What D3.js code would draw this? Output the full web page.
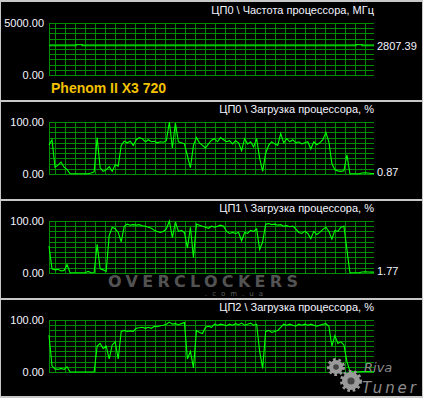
<!DOCTYPE html>
<html>
<head>
<meta charset="utf-8">
<script src="https://cdn.jsdelivr.net/npm/d3@7"></script>
<style>
  html, body { margin: 0; padding: 0; background: #000; overflow: hidden; }
</style>
</head>
<body>
<svg id="chart"></svg>
<script>
const panelTitles = [
  "ЦП0 \\ Частота процессора, МГц",
  "ЦП0 \\ Загрузка процессора, %",
  "ЦП1 \\ Загрузка процессора, %",
  "ЦП2 \\ Загрузка процессора, %",
];
const panelMax = [5000, 100, 100, 100];
const cpuName = "Phenom II X3 720";

// CPU0 clock, MHz (one sample every ~3 px)
const freqValues = [
  2807.39, 2807.39, 2807.39, 2807.39, 2807.39, 2807.39, 2807.39, 2807.39, 2807.39, 2903.5,
  2903.5, 2807.39, 2807.39, 2807.39, 2807.39, 2807.39, 2807.39, 2807.39, 2807.39, 2807.39,
  2807.39, 2807.39, 2807.39, 2807.39, 2807.39, 2807.39, 2807.39, 2807.39, 2807.39, 2807.39,
  2807.39, 2807.39, 2807.39, 2807.39, 2807.39, 2807.39, 2807.39, 2807.39, 2807.39, 2807.39,
  2807.39, 2807.39, 2807.39, 2807.39, 2807.39, 2807.39, 2807.39, 2807.39, 2807.39, 2807.39,
  2807.39, 2807.39, 2807.39, 2807.39, 2807.39, 2807.39, 2807.39, 2807.39, 2807.39, 2807.39,
  2807.39, 2807.39, 2807.39, 2807.39, 2807.39, 2807.39, 2807.39, 2807.39, 2807.39, 2807.39,
  2807.39, 2807.39, 2807.39, 2807.39, 2807.39, 2807.39, 2807.39, 2807.39, 2807.39, 2807.39,
  2807.39, 2807.39, 2807.39, 2807.39, 2807.39, 2807.39, 2807.39, 2807.39, 2807.39, 2807.39,
  2807.39, 2807.39, 2807.39, 2807.39, 2807.39, 2807.39, 2807.39, 2807.39, 2807.39, 2807.39,
  2807.39, 2807.39, 2903.5, 2903.5, 2807.39, 2807.39, 2807.39, 2807.39, 2807.39,
];

// load, %
const cpu0Load = [
  56, 66, 13, 17, 23, 13, 9, 0.5, 0.5, 0.5,
  0.5, 0.5, 0.5, 0.5, 2, 4, 70, 12, 5, 8,
  14, 5, 18, 15, 55, 63, 60, 63, 55, 66,
  70, 68, 62, 66, 62, 63, 60, 62, 61, 64,
  100, 50, 98, 62, 60, 58, 35, 12, 55, 70,
  60, 55, 50, 58, 65, 68, 62, 70, 66, 62,
  64, 58, 64, 60, 45, 68, 58, 62, 52, 68,
  30, 5, 40, 55, 62, 58, 55, 78, 60, 68,
  62, 66, 60, 62, 58, 60, 62, 48, 62, 56,
  60, 66, 80, 62, 20, 8, 6, 5, 6, 37,
  0.5, 0.5, 0.5, 0.5, 2, 2.5, 2, 0.87, 0.87,
];
const cpu1Load = [
  52, 8, 6, 7, 4, 5, 16, 0.5, 0.5, 0.5,
  0.5, 0.5, 0.5, 3, 0.5, 1, 55, 8, 6, 3,
  72, 88, 85, 78, 60, 90, 94, 92, 93, 92,
  93, 91, 90, 88, 86, 82, 80, 78, 80, 85,
  100, 68, 98, 80, 82, 78, 48, 88, 30, 94,
  92, 90, 88, 86, 90, 88, 90, 92, 90, 80,
  76, 78, 76, 78, 62, 78, 76, 82, 80, 85,
  45, 60, 94, 95, 93, 94, 92, 93, 90, 91,
  89, 90, 85, 78, 76, 80, 76, 66, 80, 74,
  78, 84, 88, 80, 65, 82, 80, 88, 90, 45,
  0.5, 0.5, 0.5, 0.5, 2, 2.5, 2, 1.77, 1.77,
];
const cpu2Load = [
  71, 12, 6, 5, 7, 5, 10, 0, 0, 0,
  0, 0, 0, 0, 0, 0, 50, 55, 45, 50,
  25, 52, 58, 25, 78, 80, 78, 79, 78, 84,
  85, 86, 84, 86, 84, 88, 87, 89, 90, 92,
  96, 92, 93, 91, 93, 95, 25, 40, 8, 80,
  76, 74, 86, 88, 86, 92, 90, 92, 91, 89,
  92, 90, 93, 91, 94, 90, 92, 94, 90, 92,
  40, 7, 78, 80, 76, 78, 80, 86, 92, 90,
  92, 90, 88, 92, 90, 92, 90, 92, 90, 88,
  90, 92, 93, 88, 50, 70, 55, 58, 52, 20,
  2, 0.5, 0.5, 0.5, 1, 1, 1, 0.5, 0.5,
];

const panelData = [freqValues, cpu0Load, cpu1Load, cpu2Load];
const showLastValue = [true, true, true, false];

const width = 423;
const height = 398;
const font = "'Liberation Sans', Arial, sans-serif";
const gridColor = "#008c00";
const lineColor = "#00ff00";
const frameColor = "#c8c8c8";

const svg = d3
  .select("#chart")
  .attr("width", width)
  .attr("height", height)
  .style("display", "block");

svg.append("rect").attr("width", width).attr("height", height).attr("fill", "#000");

const plotLeft = 49;
const plotRight = 374;
const plotHeight = 52;
const panelStep = 99;
const fmt = d3.format(".2f");

panelData.forEach((values, k) => {
  const top = 23 + panelStep * k;
  const g = svg.append("g");

  const x = d3.scaleLinear().domain([0, values.length - 1]).range([plotLeft, plotRight]);
  const y = d3.scaleLinear().domain([0, panelMax[k]]).range([top + plotHeight, top]);

  // grid
  const hTicks = d3.range(11).map((j) => (panelMax[k] * j) / 10);
  g.selectAll(".hgrid")
    .data(hTicks)
    .join("line")
    .attr("x1", plotLeft)
    .attr("x2", plotRight)
    .attr("y1", (d) => Math.round(y(d)) + 0.5)
    .attr("y2", (d) => Math.round(y(d)) + 0.5)
    .attr("stroke", gridColor)
    .attr("stroke-width", 1);

  const vPos = [plotLeft].concat(d3.range(55, plotRight, 10));
  g.selectAll(".vgrid")
    .data(vPos)
    .join("line")
    .attr("x1", (d) => d + 0.5)
    .attr("x2", (d) => d + 0.5)
    .attr("y1", Math.round(y(panelMax[k])))
    .attr("y2", Math.round(y(0)) + 1)
    .attr("stroke", gridColor)
    .attr("stroke-width", 1);

  // data line
  const line = d3
    .line()
    .x((d, i) => x(i))
    .y((d) => y(d))
    .curve(k === 0 ? d3.curveStepAfter : d3.curveLinear);

  g.append("path")
    .datum(values)
    .attr("d", line)
    .attr("fill", "none")
    .attr("stroke", lineColor)
    .attr("stroke-width", 1.1);

  // axis labels
  g.selectAll(".ylab")
    .data([panelMax[k], 0])
    .join("text")
    .attr("x", 44)
    .attr("y", (d) => y(d))
    .attr("dy", "0.36em")
    .attr("text-anchor", "end")
    .attr("fill", "#f4f4ff")
    .style("font-family", font)
    .style("font-size", "11px")
    .text((d) => fmt(d));

  g.append("text")
    .attr("x", plotRight)
    .attr("y", top - 9)
    .attr("text-anchor", "end")
    .attr("fill", "#f4f4ff")
    .style("font-family", font)
    .style("font-size", "11px")
    .text(panelTitles[k]);

  if (showLastValue[k]) {
    const last = values[values.length - 1];
    g.append("text")
      .attr("x", 377)
      .attr("y", Math.min(y(last), top + plotHeight - 2))
      .attr("dy", "0.36em")
      .attr("fill", "#f4f4ff")
      .style("font-family", font)
      .style("font-size", "11px")
      .text(fmt(last));
  }
});

svg.append("text")
  .attr("x", 51)
  .attr("y", 93)
  .attr("fill", "#f2c200")
  .style("font-family", font)
  .style("font-size", "14px")
  .style("font-weight", "bold")
  .text(cpuName);

// frame and separators
const frame = svg.append("g").attr("fill", frameColor);
frame.append("rect").attr("x", 0).attr("y", 0).attr("width", width).attr("height", 2);
frame.append("rect").attr("x", 0).attr("y", height - 2).attr("width", width).attr("height", 2);
frame.append("rect").attr("x", 0).attr("y", 0).attr("width", 1).attr("height", height);
frame.append("rect").attr("x", width - 1).attr("y", 0).attr("width", 1).attr("height", height);
[100, 199, 298].forEach((sy) => {
  frame.append("rect").attr("x", 0).attr("y", sy).attr("width", width).attr("height", 2);
});

// watermarks (rough)
const wm = svg.append("g").style("font-family", "'DejaVu Sans', sans-serif");
wm.append("text")
  .attr("x", 108)
  .attr("y", 287)
  .attr("textLength", 190)
  .attr("fill", "#6e6e6e")
  .attr("opacity", 0.75)
  .style("font-size", "16px")
  .style("font-weight", "bold")
  .text("OVERCLOCKERS");
wm.append("text")
  .attr("x", 205)
  .attr("y", 296)
  .attr("textLength", 58)
  .attr("fill", "#5e5e5e")
  .style("font-size", "7px")
  .text(".com.ua");

[[336, 367, 7], [351, 381, 9]].forEach(([cx, cy, r]) => {
  wm.append("circle")
    .attr("cx", cx).attr("cy", cy).attr("r", r)
    .attr("fill", "#9a9a9a")
    .attr("stroke", "#9a9a9a")
    .attr("stroke-width", 4)
    .attr("stroke-dasharray", "2.5 2.5");
  wm.append("circle")
    .attr("cx", cx).attr("cy", cy).attr("r", r * 0.4)
    .attr("fill", "#444");
});
wm.append("text")
  .attr("x", 364)
  .attr("y", 372)
  .attr("fill", "#8c8c8c")
  .style("font-size", "13px")
  .style("font-style", "italic")
  .text("Riva");
wm.append("text")
  .attr("x", 362)
  .attr("y", 393)
  .attr("textLength", 54)
  .attr("fill", "#8c8c8c")
  .style("font-size", "15px")
  .style("font-style", "italic")
  .text("Tuner");
</script>
</body>
</html>
